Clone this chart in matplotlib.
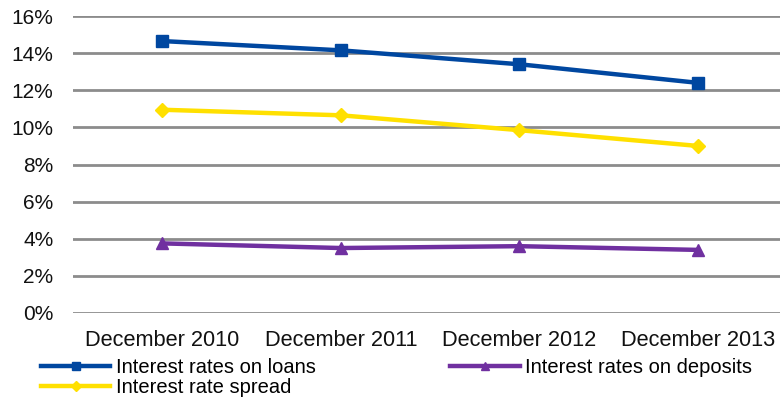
import matplotlib; matplotlib.use("Agg")
import matplotlib.pyplot as plt
from matplotlib.ticker import FuncFormatter

plt.rcParams['font.family'] = ['Liberation Sans', 'DejaVu Sans']

# Data
periods = ['December 2010', 'December 2011', 'December 2012', 'December 2013']
loans = [14.65, 14.15, 13.4, 12.4]
deposits = [3.75, 3.5, 3.6, 3.4]
spread = [10.95, 10.65, 9.85, 9.0]
yticks = [0, 2, 4, 6, 8, 10, 12, 14, 16]

fig = plt.figure(figsize=(7.8, 3.98), dpi=100)
ax = fig.add_axes([73 / 780, 85 / 398, 1 - 73 / 780, (313 - 16) / 398])

x = range(len(periods))
l1, = ax.plot(x, loans, color='#0047A0', linewidth=3.2, marker='s', markersize=9,
              label='Interest rates on loans')
l3, = ax.plot(x, spread, color='#FFE000', linewidth=3.2, marker='D', markersize=7.5,
              label='Interest rate spread')
l2, = ax.plot(x, deposits, color='#7030A0', linewidth=3.2, marker='^', markersize=9,
              label='Interest rates on deposits')

ax.set_xlim(-0.5, 3.46)
ax.set_ylim(0, 16)
ax.set_yticks(yticks)
ax.yaxis.set_major_formatter(FuncFormatter(lambda v, p: f'{v:.0f}%'))
ax.set_xticks(list(x))
ax.set_xticklabels(periods)
ax.tick_params(axis='both', length=0, colors='#111111')
ax.tick_params(axis='x', pad=12, labelsize=15.7)
ax.tick_params(axis='y', pad=14, labelsize=15)

ax.grid(axis='y', color='#8c8c8c', linewidth=2)
ax.set_axisbelow(True)
for s in ax.spines.values():
    s.set_visible(False)

# legend below the axis: loans / spread in the first column, deposits in the second
fig.legend(handles=[l1, l3, l2], ncol=2, loc='upper left',
           bbox_to_anchor=(41 / 780, 40 / 398), frameon=False,
           fontsize=14.5, handlelength=3.45, handletextpad=0.25, markerscale=0.65,
           columnspacing=6.7, labelspacing=0.05, borderaxespad=0, borderpad=0)

plt.savefig("out.png", dpi=100)
